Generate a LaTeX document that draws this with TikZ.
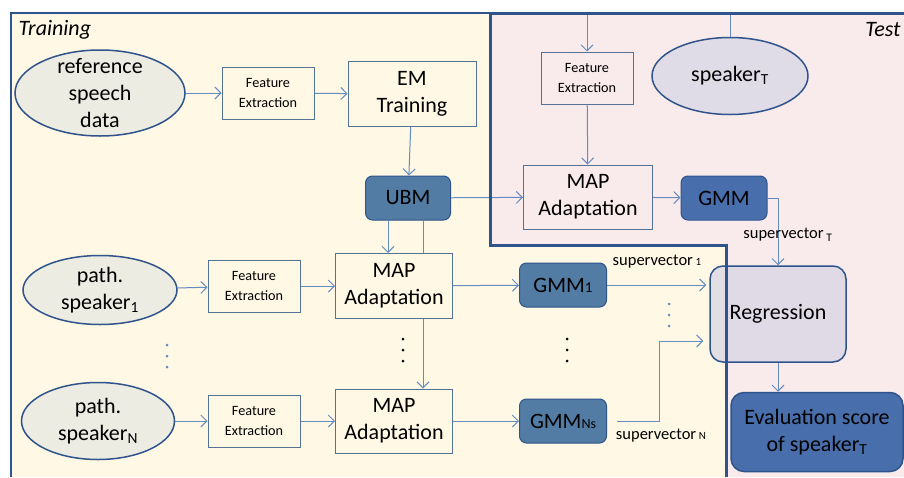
\documentclass[tikz,border=0pt]{standalone}
\usepackage{fontspec}
\setmainfont{Carlito}
\usetikzlibrary{positioning}
\usetikzlibrary{shapes.geometric}
\usetikzlibrary{arrows.meta}
\usepackage{xcolor}

\definecolor{trainbg}{RGB}{254,248,228}
\definecolor{testbg}{RGB}{249,234,236}
\definecolor{framec}{RGB}{47,84,140}
\definecolor{linec}{RGB}{100,140,192}
\definecolor{boxline}{RGB}{84,114,150}
\definecolor{ellfill}{RGB}{236,236,226}
\definecolor{elltfill}{RGB}{223,220,231}
\definecolor{ubmfill}{RGB}{82,124,164}
\definecolor{gmmfill}{RGB}{72,110,172}
\definecolor{regfill}{RGB}{214,212,228}

\newcommand{\bigfont}{\fontsize{22}{27}\selectfont}
\newcommand{\fefont}{\fontsize{14.2}{20}\selectfont}
\newcommand{\svfont}{\fontsize{16.5}{19}\selectfont}

\tikzset{
  febox/.style={draw=boxline, line width=1pt, fill=#1, minimum width=92, minimum height=52,
    inner sep=0, align=center, font=\fefont},
  febox/.default=trainbg,
  mapbox/.style={draw=boxline, line width=1pt, fill=#1, minimum width=117, minimum height=65,
    inner sep=0, align=center, font=\bigfont},
  mapbox/.default=trainbg,
  modelbox/.style={draw=framec, line width=1pt, fill=ubmfill, rounded corners=7,
    minimum width=87, minimum height=44, inner sep=0, font=\bigfont},
  datanode/.style={ellipse, draw=framec, line width=1.5pt, fill=ellfill, inner sep=0,
    inner ysep=-14pt, align=center, font=\bigfont},
  arr/.style={draw=linec, line width=1pt, -{Straight Barb[length=6pt,width=12pt]}},
  wire/.style={draw=linec, line width=1pt},
}

\begin{document}
\begin{tikzpicture}[x=1pt,y=-1pt]
    \useasboundingbox (0,0) rectangle (904,477);

    % Training and test areas
    \fill[trainbg] (11,13) rectangle (726,477);
    \fill[testbg] (490,13) -- (904,13) -- (904,477) -- (726,477) -- (726,245) -- (490,245) -- cycle;
    \draw[framec, line width=2pt] (11,477) -- (11,13) -- (490,13);
    \node[anchor=west, font=\bigfont\itshape] (traintitle) at (15,30) {Training};
    \node[anchor=east, font=\bigfont\itshape] (testtitle) at (904,30) {Test};

    % UBM training
    \node[datanode, minimum width=170, minimum height=86] (refdata) at (100,93) {reference\\speech\\data};
    \node[febox] (feref) at (268,93) {Feature\\Extraction};
    \node[mapbox, minimum width=128] (em) at (412,94) {EM\\Training};
    \node[modelbox, minimum width=85] (ubm) at (408,198) {UBM};

    % pathological speakers
    \node[datanode, minimum width=154, minimum height=69] (spkone) at (100,290) {path.\\speaker\textsubscript{1}};
    \node[febox] (feone) at (254,286) {Feature\\Extraction};
    \node[mapbox] (mapone) at (394,286) {MAP\\Adaptation};
    \node[modelbox] (gmmone) at (563,285) {GMM{\fontsize{15}{18}\selectfont 1}};

    \node[datanode, minimum width=153, minimum height=77] (spkn) at (98,421) {path.\\speaker\textsubscript{N}};
    \node[febox] (fen) at (254,421) {Feature\\Extraction};
    \node[mapbox, minimum height=64] (mapn) at (394,421) {MAP\\Adaptation};
    \node[modelbox] (gmmn) at (563,421) {GMM{\fontsize{14}{17}\selectfont Ns}};

    % vertical dots
    \foreach \y in {0,11,22} {
        \fill[linec] (167,345+\y) circle (1.5);
        \fill (403,339+\y) circle (1.5);
        \fill (567,339+\y) circle (1.5);
        \fill[linec] (669,304+\y) circle (1.5);
    }

    % test speaker
    \node[datanode, fill=elltfill, minimum width=156, minimum height=77] (spkt) at (730,76) {speaker\textsubscript{T}};
    \node[febox=testbg] (fet) at (587,78) {Feature\\Extraction};
    \node[mapbox=testbg, minimum width=129, minimum height=64] (mapt) at (588,197) {MAP\\Adaptation};
    \node[modelbox, fill=gmmfill, minimum width=86] (gmmt) at (724,198) {GMM};

    % regression
    \node[draw=framec, line width=1.5pt, fill=regfill, fill opacity=0.7, text opacity=1,
          rounded corners=13, minimum width=136, minimum height=96, font=\bigfont] (reg) at (778,314) {Regression};
    \node[draw=framec, line width=1.5pt, fill=gmmfill, rounded corners=13, minimum width=172,
          minimum height=79, align=center, font=\bigfont] (eval) at (817,432) {Evaluation score\\of speaker\textsubscript{T}};

    % connectors
    \draw[arr] (refdata) -- (feref);
    \draw[arr] (feref) -- (em);
    \draw[arr] (em) -- (ubm);
    \draw[arr] ([xshift=-20]ubm.south) -- ([xshift=-20]ubm.south |- mapone.north);
    \draw[wire] ([xshift=15]ubm.south) -- ([xshift=15]ubm.south |- mapone.north);
    \draw[arr] ([xshift=29]mapone.south) -- ([xshift=29]mapone.south |- mapn.north);
    \draw[arr] (ubm) -- (mapt);
    \draw[arr] (spkone) -- (feone);
    \draw[arr] (feone) -- (mapone);
    \draw[arr] (mapone) -- (gmmone);
    \draw[arr] (spkn) -- (fen);
    \draw[arr] (fen) -- (mapn);
    \draw[arr] (mapn) -- (gmmn);
    \draw[arr] (spkt.north) -- ++(0,-22) -| (fet.north);
    \draw[arr] (fet) -- (mapt);
    \draw[arr] (mapt) -- (gmmt);
    \draw[arr] (gmmone.east) -- ([xshift=-3]gmmone.east -| reg.west);
    \draw[arr] ([xshift=10]gmmn.east) -- ++(42,0) |- ([xshift=-6,yshift=-27]reg.west);
    \draw[arr] (gmmt.east) -| (reg.north);
    \draw[arr] (reg.south) -- (reg.south |- eval.north);

    % supervector labels
    \node[font=\svfont] (svone) at (657,262) {supervector\,{\fontsize{11}{13}\selectfont 1}};
    \node[font=\svfont] (svn) at (661,436) {supervector\,{\fontsize{11}{13}\selectfont N}};
    \node[font=\svfont] (svt) at (788,235) {supervector\,\textsubscript{T}};

    % test frame on top
    \draw[framec, line width=3pt] (726,477) -- (726,245) -- (490,245) -- (490,13) -- (904,13);
\end{tikzpicture}
\end{document}
